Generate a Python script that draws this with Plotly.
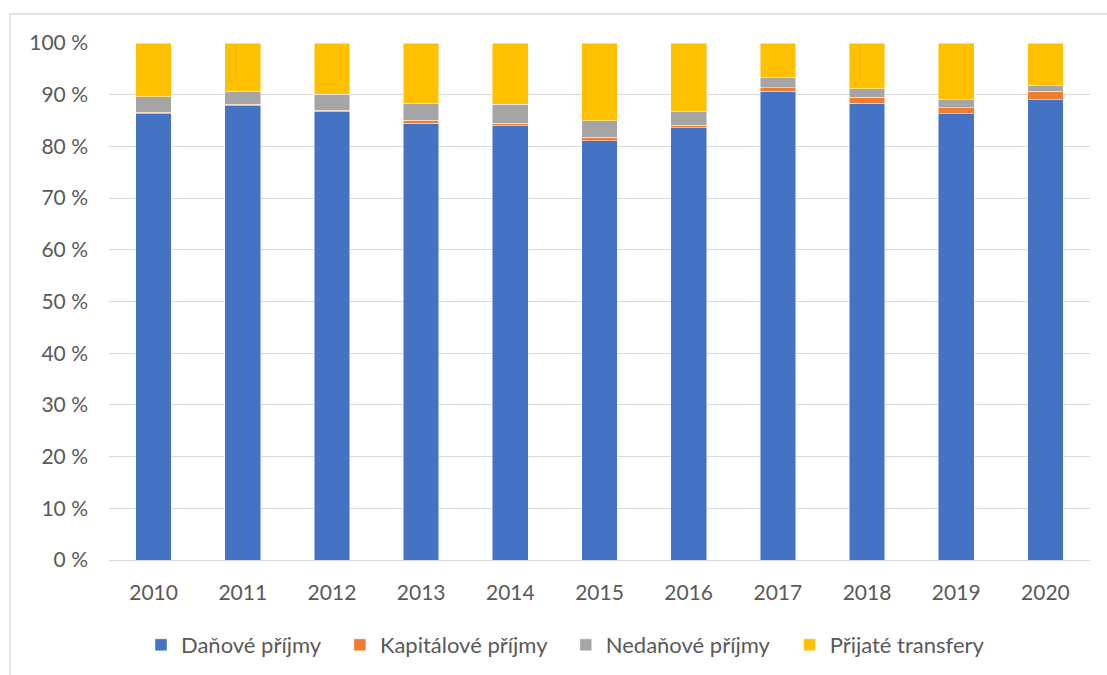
import plotly.graph_objects as go

years = ["2010", "2011", "2012", "2013", "2014", "2015", "2016", "2017", "2018", "2019", "2020"]
danove = [86.3, 87.9, 86.7, 84.5, 84.0, 81.1, 83.6, 90.65, 88.3, 86.3, 89.05]
kapitalove = [0.3, 0.3, 0.3, 0.6, 0.5, 0.65, 0.5, 0.7, 1.25, 1.2, 1.6]
nedanove = [3.0, 2.45, 3.1, 3.2, 3.7, 3.25, 2.7, 1.95, 1.65, 1.55, 1.15]
transfery = [10.4, 9.35, 9.9, 11.7, 11.8, 15.0, 13.2, 6.7, 8.8, 10.95, 8.2]

series = [
    ("Daňové příjmy", danove, "#4472C4"),
    ("Kapitálové příjmy", kapitalove, "#ED7D31"),
    ("Nedaňové příjmy", nedanove, "#A5A5A5"),
    ("Přijaté transfery", transfery, "#FFC000"),
]
legend_square_px = [158, 357, 583, 807]

FONT = "Lato"
TXT = "#595959"

W, H = 1107, 675
ml, mr, mt, mb = 109, 16.5, 43, 115
pw = W - ml - mr
ph = H - mt - mb

fig = go.Figure()
legends = {}
for i, (name, vals, col) in enumerate(series):
    key = "legend" if i == 0 else f"legend{i + 1}"
    fig.add_trace(go.Bar(
        x=years, y=vals, name=name, legend=key,
        marker=dict(color=col, line=dict(color="rgba(255,255,255,0.6)", width=0.8)),
    ))
    legends[key] = dict(
        orientation="h", x=(legend_square_px[i] - 3 - 14 - ml) / pw, xanchor="left",
        y=(ph - (645 - mt)) / ph, yanchor="middle",
        font=dict(family=FONT, size=22, color=TXT),
        itemwidth=30, bgcolor="rgba(0,0,0,0)",
    )

fig.update_layout(
    width=W, height=H,
    barmode="stack", bargap=0.6,
    margin=dict(l=ml, r=mr, t=mt, b=mb, autoexpand=False),
    paper_bgcolor="white", plot_bgcolor="white",
    font=dict(family=FONT, size=21, color=TXT),
    showlegend=True,
    xaxis=dict(
        showgrid=False, showline=True, linecolor="#D9D9D9", linewidth=1.3,
        ticks="", ticklabelstandoff=14,
        tickfont=dict(family=FONT, size=21, color=TXT),
    ),
    yaxis=dict(
        range=[0, 100], tickvals=list(range(0, 101, 10)),
        ticktext=[f"{v} %" for v in range(0, 101, 10)],
        showgrid=True, gridcolor="#D9D9D9", gridwidth=1.3,
        zeroline=False, showline=False, ticks="",
        ticklabelstandoff=20,
        tickfont=dict(family=FONT, size=21, color=TXT),
    ),
    shapes=[dict(
        type="rect", xref="paper", yref="paper",
        x0=(10 - ml) / pw, x1=(W + 10 - ml) / pw,
        y0=(ph - (H + 10 - mt)) / ph, y1=(ph - (14 - mt)) / ph,
        line=dict(color="#D9D9D9", width=1.3), fillcolor="rgba(0,0,0,0)", layer="below",
    )],
)
fig.update_layout(**legends)

fig.write_html("out.html")
